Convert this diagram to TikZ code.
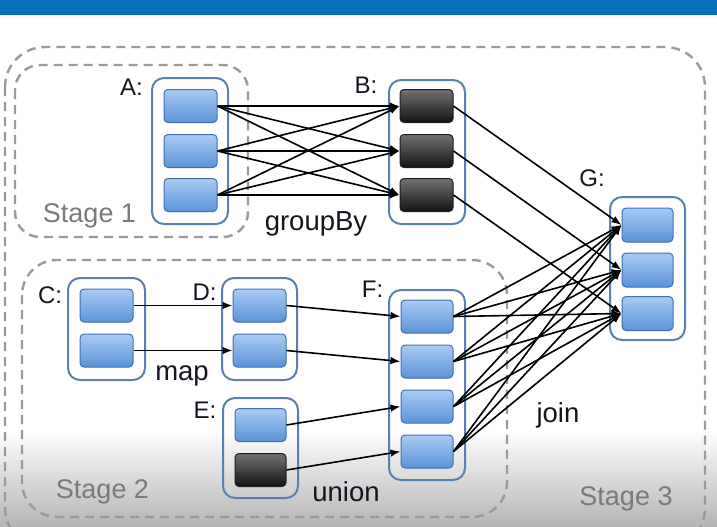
\documentclass[tikz,border=0pt]{standalone}
\usepackage{fontspec}
\setmainfont{Liberation Sans}
\usetikzlibrary{arrows.meta}
\definecolor{barblue}{HTML}{0B6FBC}
\definecolor{bggray}{HTML}{B4B4B4}
\definecolor{stagecol}{HTML}{9A9A9A}
\definecolor{stagetext}{HTML}{7A7A7A}
\definecolor{contcol}{HTML}{5A80B0}
\definecolor{blktop}{HTML}{AACBF3}
\definecolor{blkbot}{HTML}{5A93D8}
\definecolor{blkborder}{HTML}{3F72AF}
\definecolor{darktop}{HTML}{727272}
\definecolor{darkbot}{HTML}{121212}
\definecolor{darkborder}{HTML}{1E1E1E}
\definecolor{lblcol}{HTML}{151520}
\begin{document}
\begin{tikzpicture}[x=1pt,y=-1pt,
  blk/.style={draw=blkborder, line width=1pt, rounded corners=4pt, top color=blktop, bottom color=blkbot, minimum width=53pt, minimum height=33pt, inner sep=0pt},
  dark/.style={blk, draw=darkborder, top color=darktop, bottom color=darkbot},
  cont/.style={draw=contcol, line width=2pt, rounded corners=12pt, inner sep=0pt},
  stage/.style={draw=stagecol, dash pattern=on 9pt off 6pt, line width=2.4pt},
  lbl/.style={font=\fontsize{27.5}{31}\selectfont, text=lblcol, anchor=base, inner sep=0pt},
  let/.style={font=\fontsize{24}{28}\selectfont, text=lblcol, anchor=base, inner sep=0pt},
  stg/.style={font=\fontsize{27}{31}\selectfont, text=stagetext, anchor=base, inner sep=0pt},
  arr/.style={-{Latex[length=10pt,width=7.5pt]}, line width=1.6pt, black}
]
\useasboundingbox (0,0) rectangle (717,527);
\begin{scope}
  \clip (0,0) rectangle (717,527);
  \fill[white] (0,0) rectangle (717,527);
  \shade[top color=white, bottom color=bggray] (0,430) rectangle (717,527);
  \fill[barblue] (0,0) rectangle (717,15);
  \draw[stage, rounded corners=40pt] (5,47) rectangle (705,548);
\end{scope}
\draw[stage, rounded corners=25pt] (15,65) rectangle (248,237);
\draw[stage, rounded corners=35pt] (22,260) rectangle (507,517);

% stage labels
\node[stg] (s1) at (89.5,222) {Stage 1};
\node[stg] (s2) at (102.5,498) {Stage 2};
\node[stg] (s3) at (626,505) {Stage 3};

% containers
\node[cont, minimum width=76pt, minimum height=146pt] (cA) at (190,151) {};
\node[cont, minimum width=76pt, minimum height=144pt] (cB) at (427,152) {};
\node[cont, minimum width=75pt, minimum height=143pt] (cG) at (647.5,268.5) {};
\node[cont, minimum width=77pt, minimum height=102pt] (cC) at (106.5,329) {};
\node[cont, minimum width=75pt, minimum height=102pt] (cD) at (259.5,329) {};
\node[cont, minimum width=75pt, minimum height=100pt] (cE) at (260.5,448) {};
\node[cont, minimum width=76pt, minimum height=190pt] (cF) at (427,385) {};

% blocks
\node[blk] (A1) at (190.5,106) {};
\node[blk] (A2) at (190.5,151) {};
\node[blk] (A3) at (190.5,195) {};
\node[dark] (B1) at (426.5,106) {};
\node[dark] (B2) at (426.5,151) {};
\node[dark] (B3) at (426.5,195) {};
\node[blk, minimum height=34pt, minimum width=51pt] (G1) at (647.5,225) {};
\node[blk, minimum height=34pt, minimum width=51pt] (G2) at (647.5,270) {};
\node[blk, minimum height=34pt, minimum width=51pt] (G3) at (647.5,313.5) {};
\node[blk] (C1) at (106.5,305.5) {};
\node[blk] (C2) at (106.5,350.5) {};
\node[blk] (D1) at (259.5,305.5) {};
\node[blk] (D2) at (259.5,350.5) {};
\node[blk, minimum width=51pt] (E1) at (260.5,425) {};
\node[dark, minimum width=51pt] (E2) at (260.5,470) {};
\node[blk, minimum width=52pt] (F1) at (427,316.5) {};
\node[blk, minimum width=52pt] (F2) at (427,361.5) {};
\node[blk, minimum width=52pt] (F3) at (427,406.5) {};
\node[blk, minimum width=52pt] (F4) at (427,451.5) {};

% letter labels
\node[let] (lA) at (131.5,95) {A:};
\node[let] (lB) at (366,93) {B:};
\node[let] (lG) at (592,186) {G:};
\node[let] (lC) at (50,303) {C:};
\node[let] (lD) at (204.5,300) {D:};
\node[let] (lE) at (205,418) {E:};
\node[let] (lF) at (372.5,297) {F:};

% operation labels
\node[lbl] (gb) at (316,230) {groupBy};
\node[lbl] (mp) at (182,380) {map};
\node[lbl] (un) at (346,501) {union};
\node[lbl] (jn) at (558,422) {join};

% edges
\foreach \i in {1,2,3}{
  \foreach \j in {1,2,3}{
    \draw[arr] (A\i.east) -- (B\j.west);
  }
  \draw[arr] (B\i.east) -- (G\i.west);
}
\foreach \i in {1,2,3,4}{
  \foreach \j in {1,2,3}{
    \draw[arr] (F\i.east) -- (G\j.west);
  }
}
\draw[arr] (C1.east) -- (D1.west);
\draw[arr] (C2.east) -- (D2.west);
\draw[arr] (D1.east) -- (F1.west);
\draw[arr] (D2.east) -- (F2.west);
\draw[arr] (E1.east) -- (F3.west);
\draw[arr] (E2.east) -- (F4.west);
\end{tikzpicture}
\end{document}
